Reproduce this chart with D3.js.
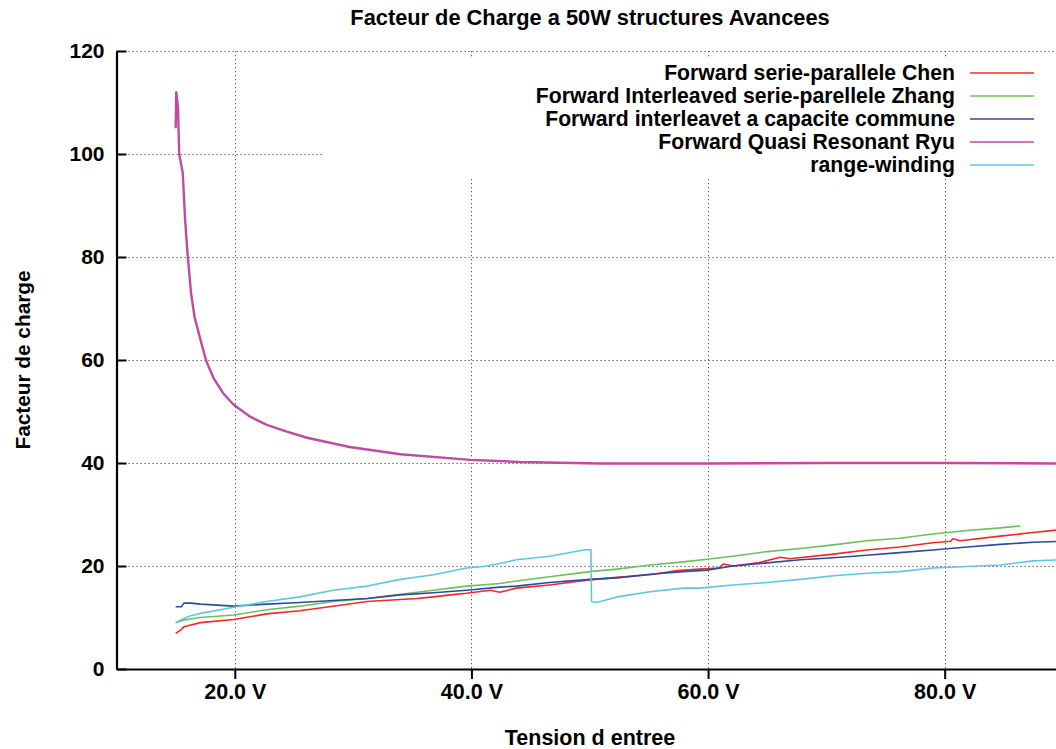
<!DOCTYPE html>
<html><head><meta charset="utf-8">
<script src="https://cdn.jsdelivr.net/npm/d3@7"></script>
<style>
html,body{margin:0;padding:0;background:#fff;}
svg{display:block;}
text{font-family:"Liberation Sans",Arial,Helvetica,sans-serif;fill:#000;}
</style></head>
<body><svg id="chart" width="1056" height="749"></svg>
<script>
// ---- data ----
const chartTitle = "Facteur de Charge a 50W structures Avancees";
const xLabel = "Tension d entree";
const yLabel = "Facteur de charge";
const xTicks = [20, 40, 60, 80];
const xTickLabels = ["20.0 V", "40.0 V", "60.0 V", "80.0 V"];
const yTicks = [0, 20, 40, 60, 80, 100, 120];
const seriesNames = [
  "Forward serie-parallele Chen",
  "Forward Interleaved serie-parellele Zhang",
  "Forward interleavet a capacite commune",
  "Forward Quasi Resonant Ryu",
  "range-winding"
];
const seriesColors = ["#f02828", "#6cc05a", "#2a4ca0", "#c04aa4", "#5cc8e0"];

const chenV = [15.0,15.5,15.7,17.1,19.9,22.7,25.5,28.3,31.2,34.0,35.4,36.8,38.2,39.6,41.6,42.4,43.8,46.6,48.9,50.0,52.3,55.1,57.4,59.3,60.9,61.3,62.1,64.2,66.1,66.9,70.6,73.4,76.2,79.0,80.5,80.7,81.3,84.7,87.5,90.0];
const chenY = [6.9,7.7,8.2,9.0,9.6,10.7,11.3,12.2,13.1,13.5,13.7,14.0,14.4,14.7,15.3,14.9,15.7,16.3,17.0,17.3,17.8,18.3,19.1,19.4,19.6,20.4,20.0,20.6,21.7,21.4,22.3,23.1,23.7,24.5,24.8,25.3,24.9,25.8,26.5,27.1];

const zhangV = [15.0,15.7,17.1,19.9,22.7,25.5,28.3,31.2,34.0,36.8,39.6,42.4,43.8,46.6,50.0,52.3,55.1,57.9,59.9,62.1,65.0,67.8,70.6,73.4,76.2,79.0,81.9,84.7,86.4];
const zhangY = [9.0,9.5,10.0,10.5,11.5,12.2,13.1,13.7,14.5,15.3,16.1,16.6,17.1,17.9,18.9,19.4,20.2,20.8,21.3,21.9,22.8,23.4,24.1,24.9,25.4,26.2,26.9,27.4,27.8];

const communeV = [15.0,15.5,15.7,16.3,17.1,19.9,22.7,25.5,28.3,31.2,34.0,36.8,39.6,42.4,43.8,46.6,50.0,52.3,55.1,57.9,59.9,62.1,65.0,67.8,70.6,73.4,76.2,79.0,81.9,84.7,87.5,90.0];
const communeY = [12.1,12.1,12.8,12.8,12.6,12.2,12.6,12.9,13.3,13.7,14.4,14.8,15.3,15.9,16.1,16.8,17.4,17.7,18.4,18.9,19.2,20.0,20.6,21.2,21.6,22.1,22.6,23.1,23.7,24.2,24.6,24.8];

const ryuV = [15.0,15.05,15.2,15.3,15.6,15.8,16.0,16.3,16.6,17.1,17.6,18.2,19.0,19.9,21.3,22.7,24.4,26.1,29.7,34.0,39.9,44.1,50.9,60.0,70.0,80.0,90.0];
const ryuY = [105,112,109,100,96.3,87.2,80.8,73.0,68.3,63.9,59.7,56.5,53.6,51.3,49.0,47.4,46.1,44.9,43.1,41.7,40.6,40.2,39.9,39.9,40.0,40.0,39.9];

const rangeV = [15.0,15.7,16.2,17.1,19.9,22.7,25.5,28.3,31.2,34.0,36.8,39.6,41.0,42.4,43.8,46.6,49.5,50.1,50.15,50.6,52.3,55.1,57.9,59.3,62.1,65.0,67.8,70.6,73.4,76.2,79.0,81.9,84.7,87.5,90.0];
const rangeY = [9.0,9.8,10.3,10.8,12.0,13.1,14.0,15.3,16.1,17.4,18.3,19.6,19.9,20.5,21.2,21.9,23.1,23.2,13.1,12.9,14.0,15.0,15.7,15.7,16.3,16.8,17.4,18.1,18.6,18.9,19.6,19.9,20.2,21.0,21.2];

const seriesX = [chenV, zhangV, communeV, ryuV, rangeV];
const seriesY = [chenY, zhangY, communeY, ryuY, rangeY];

// ---- layout ----
const svg = d3.select("#chart");
const plotLeft = 116.5, plotRight = 1063, plotTop = 51, plotBottom = 669;
const x = d3.scaleLinear().domain([10, 90]).range([plotLeft, plotRight]);
const y = d3.scaleLinear().domain([0, 120]).range([plotBottom, plotTop]);

// grid
const grid = svg.append("g").attr("stroke", "#555").attr("stroke-width", 1).attr("stroke-dasharray", "1.3,2.7");
grid.selectAll("line.v").data(xTicks).join("line")
  .attr("x1", d => Math.round(x(d)) + 0.5).attr("x2", d => Math.round(x(d)) + 0.5)
  .attr("y1", plotTop).attr("y2", plotBottom);
grid.selectAll("line.h").data(yTicks.filter(d => d > 0)).join("line")
  .attr("x1", plotLeft).attr("x2", 1056)
  .attr("y1", d => Math.round(y(d)) + 0.5).attr("y2", d => Math.round(y(d)) + 0.5);

// key background masks grid
svg.append("rect").attr("x", 323).attr("y", 57).attr("width", 760).attr("height", 120).attr("fill", "#fff");

// series lines
const line = d3.line().x(d => x(d[0])).y(d => y(d[1]));
seriesNames.forEach((name, i) => {
  const pts = seriesX[i].map((v, j) => [v, seriesY[i][j]]);
  svg.append("path").datum(pts)
    .attr("fill", "none")
    .attr("stroke", seriesColors[i])
    .attr("stroke-width", i === 3 ? 2.4 : 1.6)
    .attr("stroke-linejoin", "round")
    .attr("d", line);
});

// axes
const yAxis = d3.axisLeft(y).tickValues(yTicks).tickSizeInner(-10).tickSizeOuter(0).tickPadding(12);
const gy = svg.append("g").attr("transform", `translate(${plotLeft},0)`).call(yAxis);
gy.select(".domain").attr("stroke", "#000").attr("stroke-width", 2.2);
gy.selectAll(".tick line").attr("stroke", "#000").attr("stroke-width", 2);
gy.selectAll(".tick text").attr("font-size", 21).attr("font-weight", "bold").attr("font-family", "Liberation Sans, Arial, sans-serif");

const xAxis = d3.axisBottom(x).tickValues(xTicks).tickFormat((d, i) => xTickLabels[i]).tickSizeInner(10).tickSizeOuter(0).tickPadding(5);
const gx = svg.append("g").attr("transform", `translate(0,${plotBottom})`).call(xAxis);
gx.select(".domain").attr("stroke", "#000").attr("stroke-width", 2.2);
gx.selectAll(".tick line").attr("stroke", "#000").attr("stroke-width", 2);
gx.selectAll(".tick text").attr("font-size", 21.5).attr("font-weight", "bold").attr("font-family", "Liberation Sans, Arial, sans-serif");

// title & axis labels
svg.append("text").attr("x", 590).attr("y", 25).attr("text-anchor", "middle")
  .attr("font-size", 21.8).attr("font-weight", "bold").text(chartTitle);
svg.append("text").attr("x", 590).attr("y", 745).attr("text-anchor", "middle")
  .attr("font-size", 21.5).attr("font-weight", "bold").text(xLabel);
svg.append("text").attr("transform", "translate(30,360) rotate(-90)").attr("text-anchor", "middle")
  .attr("font-size", 20.8).attr("font-weight", "bold").text(yLabel);

// legend
const legend = svg.append("g");
seriesNames.forEach((name, i) => {
  const cy = 73 + i * 23;
  legend.append("text").attr("x", 955).attr("y", cy).attr("dy", "0.35em").attr("text-anchor", "end")
    .attr("font-size", 21.2).attr("font-weight", "bold").text(name);
  legend.append("line").attr("x1", 970).attr("x2", 1034).attr("y1", cy).attr("y2", cy)
    .attr("stroke", seriesColors[i]).attr("stroke-width", 1.6);
});
</script></body></html>
